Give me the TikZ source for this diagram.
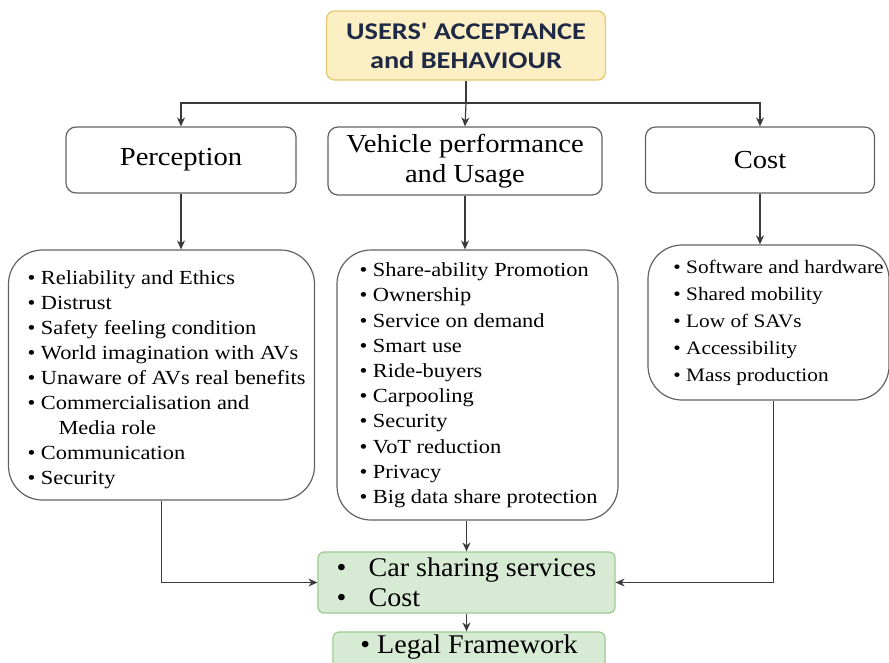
\documentclass[tikz,border=0pt]{standalone}
\usepackage{fontspec}
\setmainfont{Liberation Serif}
\newfontfamily\topfont[FakeStretch=1.18]{Carlito}
\newfontfamily\listfont[FakeStretch=1.12]{Liberation Serif}
\newfontfamily\headfont[FakeStretch=1.1]{Liberation Serif}
\newfontfamily\greenfont[FakeStretch=1.04]{Liberation Serif}
\usetikzlibrary{arrows.meta,calc}
\definecolor{topfill}{HTML}{FCEFC4}
\definecolor{topline}{HTML}{E3C870}
\definecolor{toptext}{HTML}{1E2A45}
\definecolor{grfill}{HTML}{D7EAD3}
\definecolor{grline}{HTML}{9DCB8C}
\definecolor{boxline}{HTML}{626262}
\definecolor{lineclr}{HTML}{3A3A3A}
\tikzset{
  topbox/.style={draw=topline, fill=topfill, line width=1.2pt, rounded corners=8pt,
    minimum width=279pt, minimum height=69pt, inner sep=0pt, align=center,
    font=\topfont\bfseries\fontsize{24}{29}\selectfont, text=toptext},
  headbox/.style={draw=boxline, line width=1.2pt, rounded corners=10pt,
    minimum height=66pt, inner sep=0pt, align=center,
    font=\headfont\fontsize{26}{30}\selectfont},
  listbox/.style={draw=boxline, line width=1.2pt, rounded corners=34pt,
    inner sep=0pt, font=\listfont\fontsize{20}{25}\selectfont},
  greenbox/.style={draw=grline, fill=grfill, line width=1.2pt, rounded corners=6pt,
    inner sep=0pt, align=left, font=\greenfont\fontsize{27}{30}\selectfont},
  arr/.style={draw=lineclr, line width=1.2pt, -{Stealth[length=9pt,width=8pt]}},
  ln/.style={draw=lineclr, line width=1.2pt}
}
\begin{document}
\begin{tikzpicture}[x=1pt,y=-1pt]
\useasboundingbox (0,0) rectangle (889,662);
\clip (0,0) rectangle (889,662);

\node[topbox] (top) at (466,45.5) {USERS' ACCEPTANCE\\and BEHAVIOUR};

\node[headbox, minimum width=230pt] (perc) at (181,160) {Perception};
\node[headbox, minimum width=274pt, minimum height=68pt] (veh) at (465,161) {Vehicle performance\\and Usage};
\node[headbox, minimum width=229pt] (cost) at (760,160) {Cost};

\node[listbox, minimum width=306pt, minimum height=250pt] (plist) at (161.5,375) {%
\begin{tabular}{@{\hspace{10pt}}l@{}}
\rule{0pt}{27pt}\textbullet{} Reliability and Ethics\\
\textbullet{} Distrust\\
\textbullet{} Safety feeling condition\\
\textbullet{} World imagination with AVs\\
\textbullet{} Unaware of AVs real benefits\\
\textbullet{} Commercialisation and\\
\hspace{1.55em}Media role\\
\textbullet{} Communication\\
\textbullet{} Security
\end{tabular}};

\node[listbox, minimum width=281pt, minimum height=270pt,
  font=\listfont\fontsize{20}{25.2}\selectfont] (vlist) at (477.5,385) {%
\begin{tabular}{@{\hspace{2pt}}l@{}}
\textbullet{} Share-ability Promotion\\
\textbullet{} Ownership\\
\textbullet{} Service on demand\\
\textbullet{} Smart use\\
\textbullet{} Ride-buyers\\
\textbullet{} Carpooling\\
\textbullet{} Security\\
\textbullet{} VoT reduction\\
\textbullet{} Privacy\\
\textbullet{} Big data share protection
\end{tabular}};

\node[listbox, minimum width=241pt, minimum height=155pt,
  font=\listfont\fontsize{19}{27}\selectfont] (clist) at (768.5,322.5) {%
\begin{tabular}{@{\hspace{20pt}}l@{}}
\textbullet{} Software and hardware\\
\textbullet{} Shared mobility\\
\textbullet{} Low of SAVs\\
\textbullet{} Accessibility\\
\textbullet{} Mass production
\end{tabular}};

\node[greenbox, minimum width=297pt, minimum height=61pt] (green) at (466.5,582.5) {%
\makebox[32pt][l]{\textbullet}Car sharing services\\
\makebox[32pt][l]{\textbullet}Cost};

\node[greenbox, minimum width=272pt, minimum height=38pt, align=center] (legal) at (469,651) {%
\textbullet{} Legal Framework\rule[-13pt]{0pt}{0pt}};

% connectors
\draw[ln] (top.south) -- (top.south |- 0,103) coordinate (hub);
\draw[arr] (hub) -| (perc.north);
\draw[arr] (hub) -- (veh.north);
\draw[arr] (hub) -| (cost.north);

\draw[arr] (perc.south) -- (perc.south |- plist.north);
\draw[arr] (veh.south) -- (veh.south |- vlist.north);
\draw[arr] (cost.south) -- (cost.south |- clist.north);

\draw[arr] (plist.south) |- (green.west);
\draw[arr] ($(clist.south)+(5,0)$) |- (green.east);
\draw[arr] (vlist.south -| green.north) -- (green.north);
\draw[arr] (green.south) -- (green.south |- legal.north);
\end{tikzpicture}
\end{document}
